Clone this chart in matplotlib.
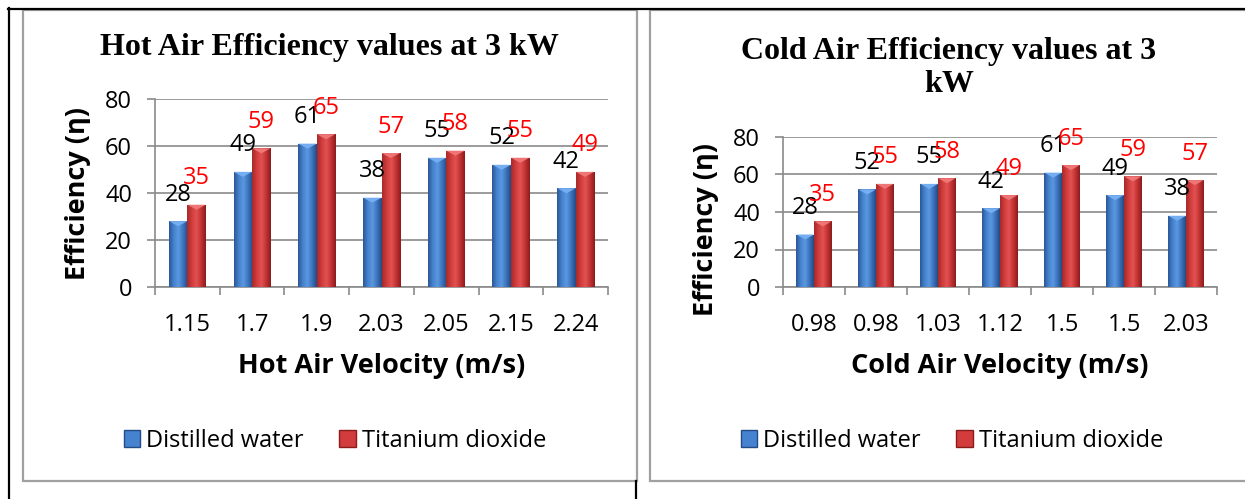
import numpy as np
import matplotlib
matplotlib.use('Agg')
import matplotlib.pyplot as plt
from matplotlib.colors import LinearSegmentedColormap
from matplotlib.patches import Patch, Rectangle, Polygon

# data
hot_velocity = ['1.15', '1.7', '1.9', '2.03', '2.05', '2.15', '2.24']
hot_water = [28, 49, 61, 38, 55, 52, 42]
hot_tio2 = [35, 59, 65, 57, 58, 55, 49]

cold_velocity = ['0.98', '0.98', '1.03', '1.12', '1.5', '1.5', '2.03']
cold_water = [28, 52, 55, 42, 61, 49, 38]
cold_tio2 = [35, 55, 58, 49, 65, 59, 57]

series_names = ['Distilled water', 'Titanium dioxide']

W, H = 1245, 499
GRAY = '#8a8a8a'
FS = 17

plt.rcParams['font.family'] = ['Open Sans', 'DejaVu Sans']

blue_cmap = LinearSegmentedColormap.from_list(
    'blue', ['#2b5894', '#4582cf', '#5b98e0', '#3c74bd', '#234b85'])
red_cmap = LinearSegmentedColormap.from_list(
    'red', ['#a52a2a', '#d23c3c', '#e25252', '#c43333', '#8a1c1c'])
blue_cap, red_cap = '#74aef0', '#ee7676'

fig = plt.figure(figsize=(W / 100, H / 100), dpi=100)


def px_axes(x0, y0, x1, y1):
    return fig.add_axes([x0 / W, 1 - y1 / H, (x1 - x0) / W, (y1 - y0) / H])


def shade_bars(ax, bars, cmap, cap, ax_h_px):
    grad = np.linspace(0, 1, 64).reshape(1, -1)
    dy = 5 * 80 / ax_h_px
    for b in bars:
        x, y, w, h = b.get_x(), b.get_y(), b.get_width(), b.get_height()
        im = ax.imshow(grad, cmap=cmap, extent=[x, x + w, y, y + h],
                       aspect='auto', zorder=3, interpolation='bilinear')
        im.set_clip_path(b)
        b.set_facecolor('none')
        ax.add_patch(Polygon([(x, y + h), (x + w, y + h), (x + w / 2, y + h - dy)],
                             closed=True, facecolor=cap, edgecolor='none', zorder=4))


def draw_chart(ax, cats, water, tio2, ax_h_px):
    x = np.arange(len(cats))
    w = 0.285
    b1 = ax.bar(x - w / 2, water, w, zorder=3, linewidth=0)
    b2 = ax.bar(x + w / 2, tio2, w, zorder=3, linewidth=0)
    shade_bars(ax, b1, blue_cmap, blue_cap, ax_h_px)
    shade_bars(ax, b2, red_cmap, red_cap, ax_h_px)
    for xi, v in zip(x, water):
        ax.annotate(str(v), (xi - w / 2, v), xytext=(0, 19), textcoords='offset points',
                    ha='center', va='center', fontsize=FS, color='black', zorder=6)
    for xi, v in zip(x, tio2):
        ax.annotate(str(v), (xi + w / 2, v), xytext=(0, 19), textcoords='offset points',
                    ha='center', va='center', fontsize=FS, color='red', zorder=6)

    ax.set_xlim(-0.5, len(cats) - 0.5)
    ax.set_ylim(0, 80)
    ax.set_yticks([0, 20, 40, 60, 80])
    ax.set_xticks(x)
    ax.set_xticklabels(cats)
    ax.set_xticks(np.arange(-0.5, len(cats), 1), minor=True)
    ax.tick_params(axis='x', which='major', length=0, pad=19, labelsize=FS)
    ax.tick_params(axis='x', which='minor', length=6, width=1.2, color=GRAY)
    ax.tick_params(axis='y', length=5.5, width=1.2, color=GRAY, pad=11, labelsize=FS)
    ax.grid(axis='y', color=GRAY, linewidth=1.2)
    ax.set_axisbelow(True)
    for s in ['top', 'right']:
        ax.spines[s].set_visible(False)
    for s in ['left', 'bottom']:
        ax.spines[s].set_color(GRAY)
        ax.spines[s].set_linewidth(1.2)


def add_legend(ax, cx):
    handles = [Patch(facecolor='#4582cf', edgecolor='#234b85'),
               Patch(facecolor='#d23c3c', edgecolor='#8a1c1c')]
    ax.legend(handles, series_names, loc='center', ncol=2, frameon=False,
              bbox_to_anchor=(cx / W, 1 - 441 / H), bbox_transform=fig.transFigure,
              handlelength=0.7, handleheight=0.7, handletextpad=0.25,
              columnspacing=1.5, fontsize=FS)


# page frame behind the charts
bg = fig.add_axes([0, 0, 1, 1], zorder=-1)
bg.set_xlim(0, W)
bg.set_ylim(H, 0)
bg.axis('off')
bg.plot([8, W], [8.5, 8.5], color='black', lw=1.6)
bg.plot([9, 9], [8, H], color='black', lw=1.6)
bg.plot([636, 636], [481, H], color='black', lw=1.6)
bg.add_patch(Rectangle((23, 10), 614, 471, facecolor='white', edgecolor='#a0a0a0', lw=1.6))
bg.add_patch(Rectangle((650, 10), 620, 471, facecolor='white', edgecolor='#a0a0a0', lw=1.6))

# left chart
ax1 = px_axes(155, 99, 608, 287)
draw_chart(ax1, hot_velocity, hot_water, hot_tio2, 188)
ax1.set_xlabel('Hot Air Velocity (m/s)', fontsize=19.5, fontweight='bold', va='center')
ax1.xaxis.set_label_coords(0.5, -0.42)
ax1.set_ylabel('Efficiency (η)', fontsize=19.5, fontweight='bold', va='center')
ax1.yaxis.set_label_coords(-0.17, 0.5)
add_legend(ax1, 335)
fig.text(329 / W, 1 - 48 / H, 'Hot Air Efficiency values at 3 kW', ha='center', va='center',
         fontsize=23, family='Liberation Serif', fontweight='bold')

# right chart
ax2 = px_axes(783, 137, 1217, 287)
draw_chart(ax2, cold_velocity, cold_water, cold_tio2, 150)
ax2.set_xlabel('Cold Air Velocity (m/s)', fontsize=19.5, fontweight='bold', va='center')
ax2.xaxis.set_label_coords(0.5, -0.527)
ax2.set_ylabel('Efficiency (η)', fontsize=19.5, fontweight='bold', va='center')
ax2.yaxis.set_label_coords(-0.177, 0.38)
add_legend(ax2, 952)
fig.text(949 / W, 1 - 68 / H, 'Cold Air Efficiency values at 3\nkW', ha='center', va='center',
         fontsize=23, family='Liberation Serif', fontweight='bold', linespacing=1.2)

fig.savefig('out.png', dpi=100)
